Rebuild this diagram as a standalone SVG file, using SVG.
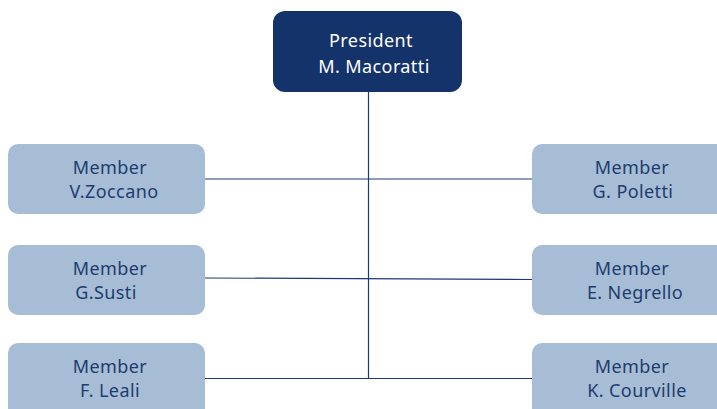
<svg xmlns="http://www.w3.org/2000/svg" width="717" height="409" viewBox="0 0 717 409">
<style>
text{font-family:"Noto Sans","Open Sans",sans-serif;font-size:18px;text-anchor:middle;letter-spacing:0.4px;font-variant-ligatures:none}
.m rect{fill:#a7bcd5}
.m text{fill:#1d3c70}
.p rect{fill:#14336b}
.p text{fill:#ffffff}
.c line{stroke:#1a3a78;stroke-width:1.2}
</style>
<rect width="717" height="409" fill="#ffffff"/>
<g class="c" id="connectors">
<line x1="368.5" y1="91" x2="368.5" y2="378"/>
<line x1="205" y1="179" x2="532" y2="179"/>
<line x1="205" y1="278" x2="532" y2="279.5"/>
<line x1="205" y1="378.5" x2="532" y2="378.5"/>
</g>
<g class="p" id="president">
<rect x="273" y="11" width="189" height="81" rx="12"/>
<text x="371" y="47">President</text>
<text x="374" y="73">M. Macoratti</text>
</g>
<g class="m" id="zoccano">
<rect x="8" y="144" width="197" height="70" rx="10"/>
<text x="110" y="174">Member</text>
<text x="114" y="198">V.Zoccano</text>
</g>
<g class="m" id="poletti">
<rect x="532" y="144" width="197" height="70" rx="10"/>
<text x="632" y="174">Member</text>
<text x="633" y="198">G. Poletti</text>
</g>
<g class="m" id="susti">
<rect x="8" y="245" width="197" height="70" rx="10"/>
<text x="110" y="275">Member</text>
<text x="106" y="299">G.Susti</text>
</g>
<g class="m" id="negrello">
<rect x="532" y="245" width="197" height="70" rx="10"/>
<text x="632" y="275">Member</text>
<text x="635" y="299">E. Negrello</text>
</g>
<g class="m" id="leali">
<rect x="8" y="343" width="197" height="75" rx="10"/>
<text x="110" y="373">Member</text>
<text x="110" y="397">F. Leali</text>
</g>
<g class="m" id="courville">
<rect x="532" y="343" width="197" height="75" rx="10"/>
<text x="632" y="373">Member</text>
<text x="637" y="397">K. Courville</text>
</g>
</svg>
